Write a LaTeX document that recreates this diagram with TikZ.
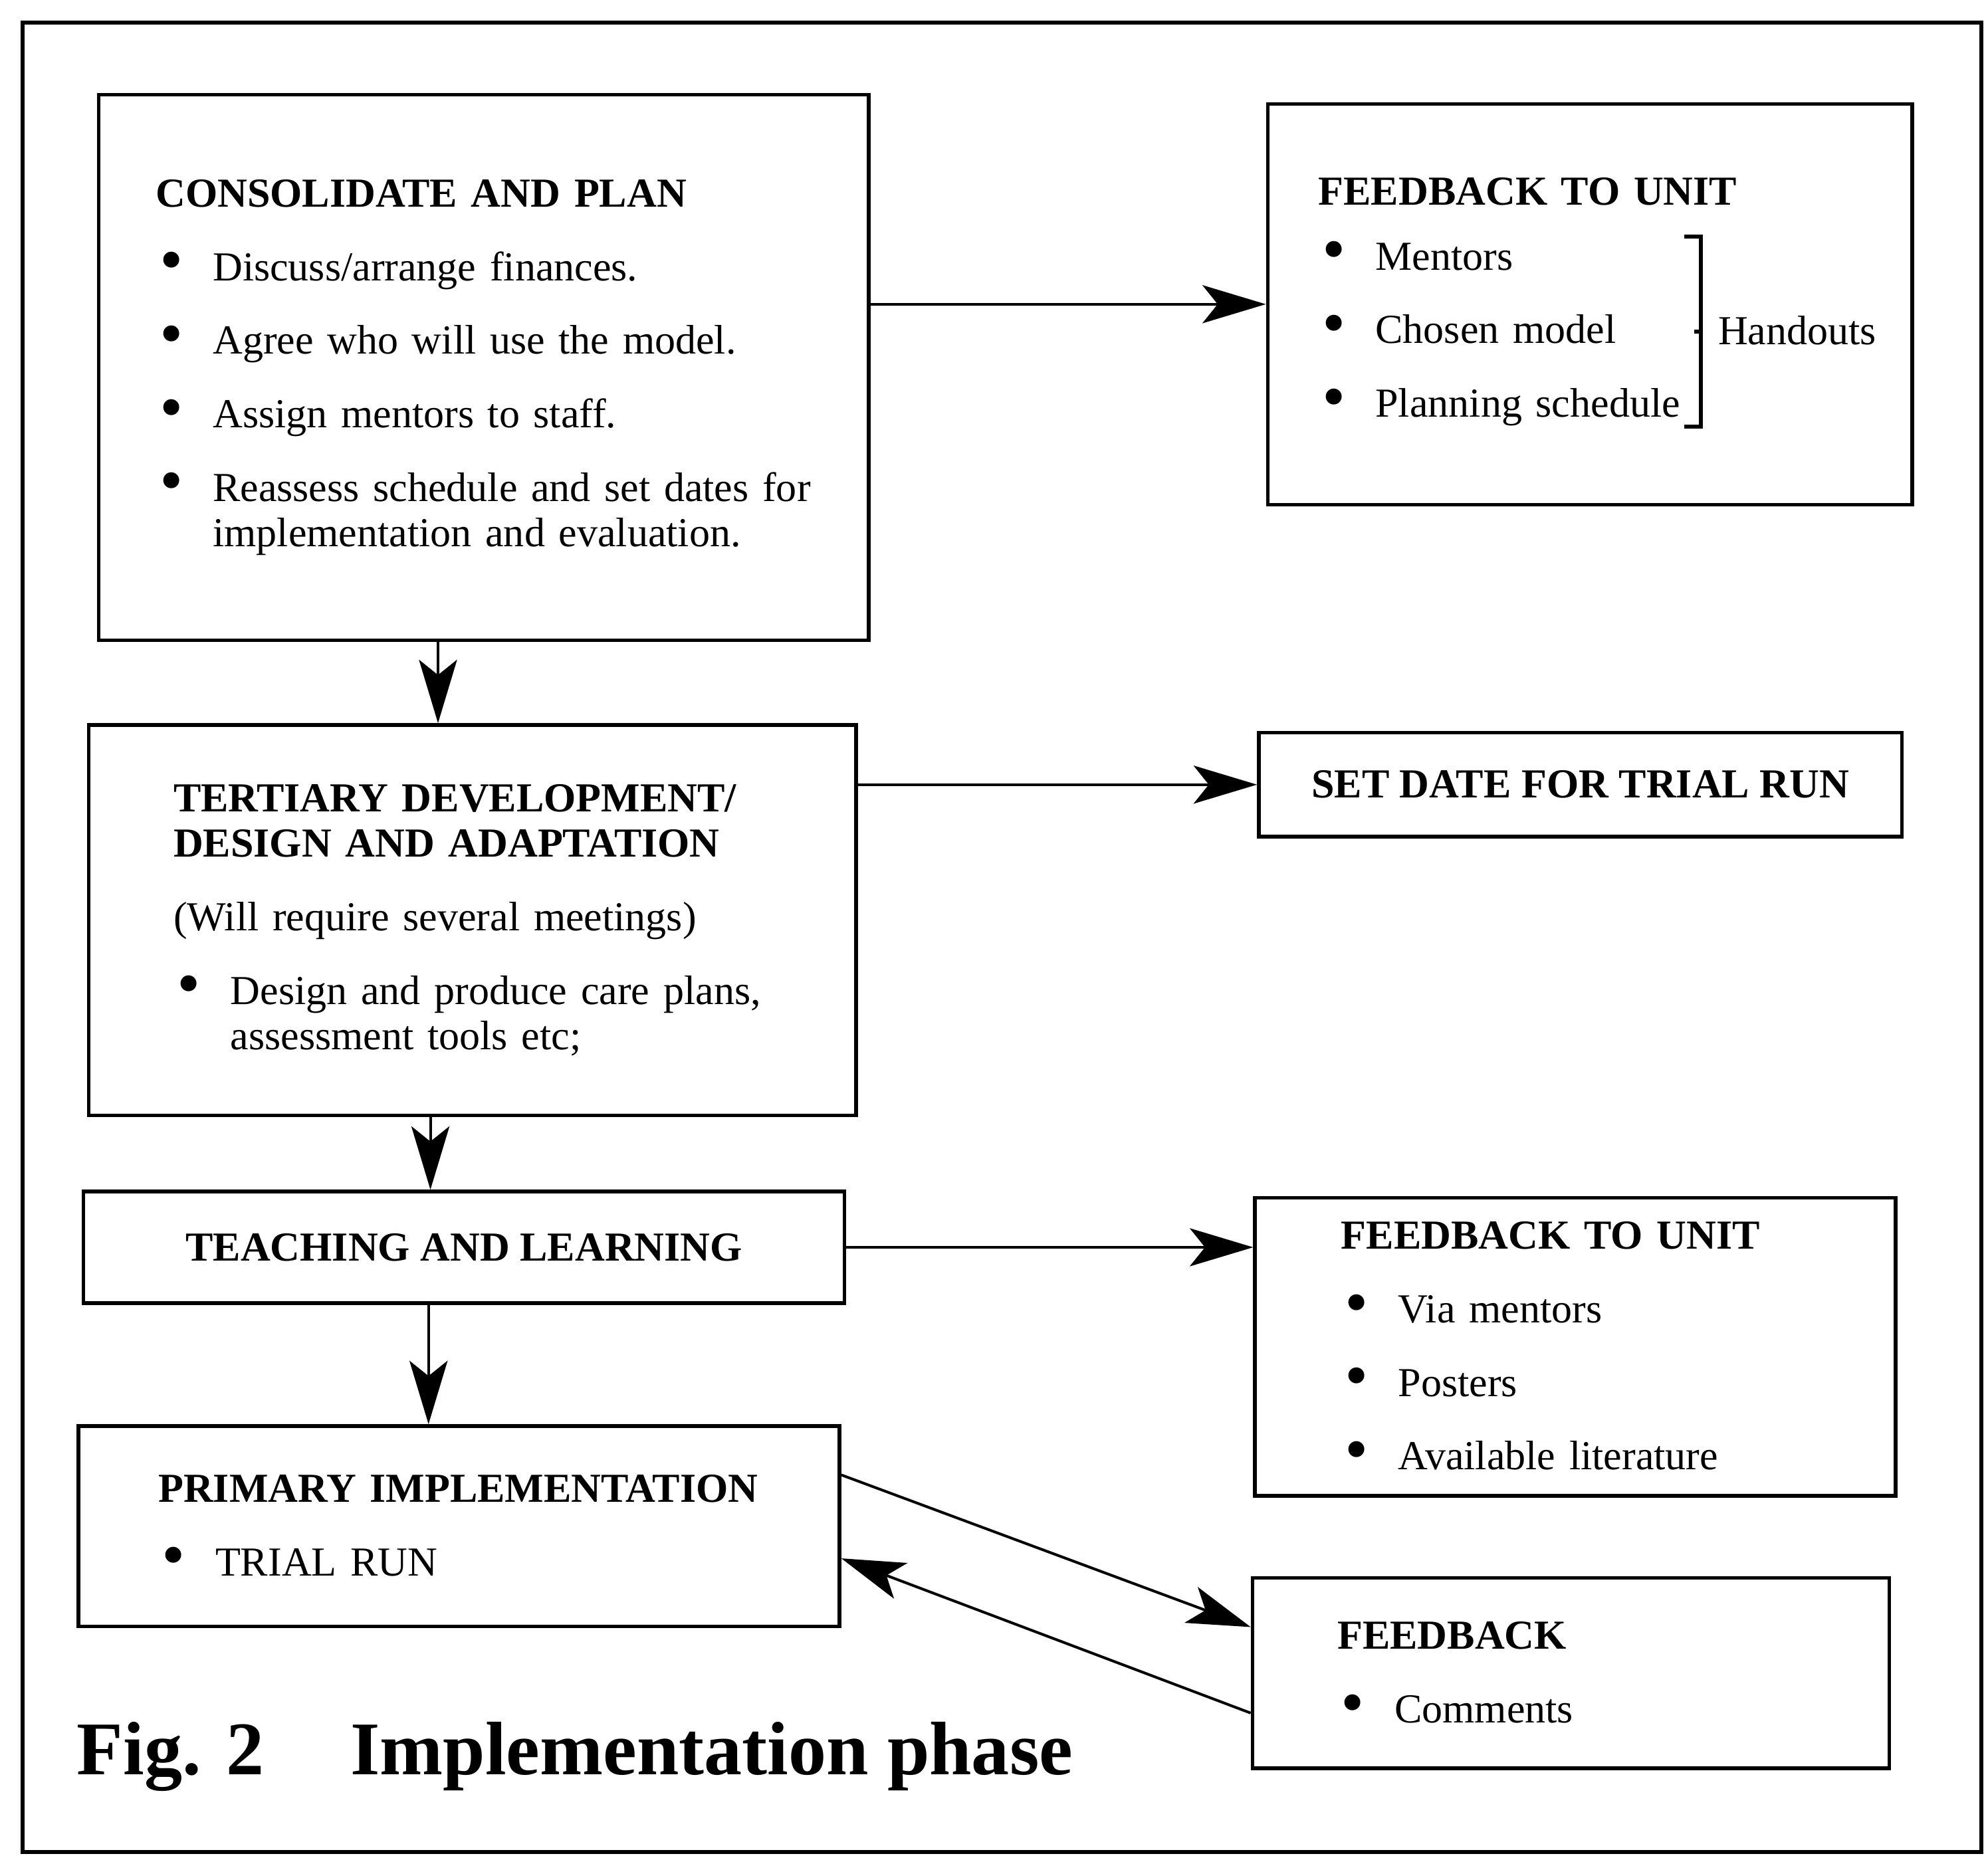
\documentclass[tikz,border=0pt]{standalone}
\usepackage{fontspec}
\setmainfont{Liberation Serif}
\usetikzlibrary{positioning,arrows.meta,calc}

\newlength{\bulind}
\setlength{\bulind}{0.45cm}
\newcommand{\bul}{\makebox[\bulind][l]{\hspace{0.03cm}\raisebox{-0.4pt}{\fontsize{15}{0}\selectfont\textbullet}}}
\newcommand{\bitem}[1]{\par\hangindent=\bulind\hangafter=1\noindent\bul #1\par}

\begin{document}
\begin{tikzpicture}[x=0.01cm, y=-0.01cm,
    box/.style={draw, line width=0.8pt, inner xsep=0pt, inner ysep=0pt,
        align=left, font=\fontsize{9.25}{10.24}\selectfont,
        execute at begin node={\setlength{\leftskip}{#1}\setlength{\parskip}{6.26pt}}},
    bar/.style={draw, line width=0.8pt, align=center,
        font=\fontsize{9.25}{10.24}\selectfont\bfseries},
    arr/.style={-{Stealth[length=0.5cm,width=0.3cm,inset=0.12cm]}, line width=0.6pt}]
    \useasboundingbox (0,0) rectangle (1568,1464);
    \draw[line width=0.9pt] (18,18) rectangle (1563,1461);

    % Define nodes
    \node[box=0.45cm, text width=6.07cm, minimum height=4.3cm] (consol) at (381.5,290) {%
        {\bfseries CONSOLIDATE AND PLAN}
        \bitem{Discuss/arrange finances.}
        \bitem{Agree who will use the model.}
        \bitem{Assign mentors to staff.}
        \bitem{Reassess schedule and set dates for\newline implementation and evaluation.}};
    \node[box=0.4cm, text width=5.08cm, minimum height=3.16cm] (fbunit) at (1254,240) {%
        {\bfseries FEEDBACK TO UNIT}\par
        \begin{tabular}{@{}l@{}}
            \bul Mentors\\[6.26pt]
            \bul Chosen model\\[6.26pt]
            \bul Planning schedule
        \end{tabular}\hspace{0.3cm}Handouts\par};
    % bracket of the handouts
    \draw[line width=0.9pt] ([shift={(330,106)}]fbunit.north west) -- ++(13,0) -- ++(0,150) -- ++(-13,0);
    \draw[line width=0.9pt] ([shift={(343,181)}]fbunit.north west) -- ++(-5,0);

    \node[box=0.67cm, text width=6.05cm, minimum height=3.08cm] (tertiary) at (372.5,726) {%
        {\bfseries TERTIARY DEVELOPMENT/\newline DESIGN AND ADAPTATION}
        \par (Will require several meetings)
        \bitem{Design and produce care plans,\newline assessment tools etc;}};
    \node[bar, minimum width=5.07cm, minimum height=0.82cm] (setdate) at (1246.5,619) {SET DATE FOR TRIAL RUN};

    \node[bar, minimum width=6cm, minimum height=0.88cm] (teach) at (366,984) {TEACHING AND LEARNING};
    \node[box=0.68cm, text width=5.05cm, minimum height=2.35cm] (fbunitb) at (1242.5,1062.5) {%
        {\bfseries FEEDBACK TO UNIT}
        \bitem{Via mentors}
        \bitem{Posters}
        \bitem{Available literature}};

    \node[box=0.63cm, text width=6cm, minimum height=1.58cm] (primary) at (362,1204) {%
        {\bfseries PRIMARY IMPLEMENTATION}
        \bitem{TRIAL RUN}};
    \node[box=0.67cm, text width=5.02cm, minimum height=1.5cm] (fback) at (1239,1320) {%
        {\bfseries FEEDBACK}
        \bitem{Comments}};

    \node[anchor=base west, inner sep=0pt, font=\fontsize{17}{20}\selectfont\bfseries] (caption) at (60,1400)
        {Fig. 2\hspace{0.68cm}Implementation phase};

    % Draw arrows
    \draw[arr] (consol.east |- fbunit.west) -- (fbunit.west);
    \draw[arr] (tertiary.east |- setdate.west) -- (setdate.west);
    \draw[arr] (teach.east) -- (teach.east -| fbunitb.west);
    \draw[arr] ([yshift=-0.4cm]primary.north east) -- ([yshift=-0.4cm]fback.north west);
    \draw[arr] ([yshift=0.45cm]fback.south west) -- ([yshift=0.55cm]primary.south east);

    \draw[arr] ([xshift=-0.36cm]consol.south) -- ([xshift=-0.36cm]consol.south |- tertiary.north);
    \draw[arr] ([xshift=-0.33cm]tertiary.south) -- ([xshift=-0.33cm]tertiary.south |- teach.north);
    \draw[arr] ([xshift=-0.28cm]teach.south) -- ([xshift=-0.28cm]teach.south |- primary.north);
\end{tikzpicture}
\end{document}
